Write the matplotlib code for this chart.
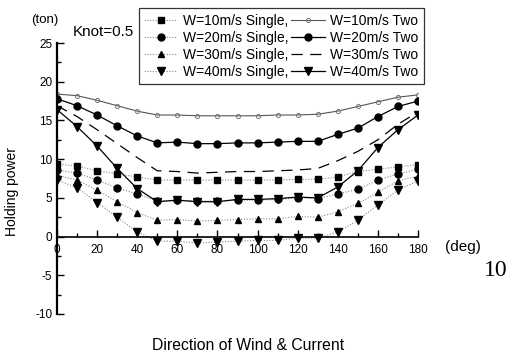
import matplotlib
matplotlib.use("Agg")
import matplotlib.pyplot as plt
from matplotlib.ticker import MultipleLocator

plt.rcParams['font.family'] = ['Liberation Sans', 'DejaVu Sans']
plt.rcParams['axes.unicode_minus'] = False

angles = [0, 10, 20, 30, 40, 50, 60, 70, 80, 90, 100, 110, 120, 130, 140, 150, 160, 170, 180]

w10_single = [9.4, 9.1, 8.5, 8.1, 7.7, 7.3, 7.3, 7.3, 7.3, 7.3, 7.3, 7.3, 7.4, 7.4, 7.7, 8.4, 8.7, 9.0, 9.3]
w20_single = [8.6, 8.2, 7.3, 6.3, 5.5, 4.6, 4.7, 4.6, 4.6, 4.7, 4.7, 4.8, 5.0, 4.9, 5.5, 6.1, 7.3, 8.1, 8.7]
w30_single = [7.9, 7.3, 6.0, 4.5, 3.1, 2.1, 2.2, 2.0, 2.1, 2.2, 2.3, 2.3, 2.6, 2.5, 3.2, 4.3, 5.7, 7.2, 7.8]
w40_single = [7.3, 6.3, 4.4, 2.5, 0.6, -0.6, -0.6, -0.85, -0.7, -0.6, -0.5, -0.5, -0.2, -0.2, 0.6, 2.1, 4.1, 6.0, 7.2]

w10_two = [18.4, 18.2, 17.6, 16.9, 16.2, 15.7, 15.7, 15.6, 15.6, 15.6, 15.6, 15.7, 15.7, 15.8, 16.2, 16.8, 17.4, 18.0, 18.3]
w20_two = [17.8, 16.9, 15.7, 14.3, 13.0, 12.1, 12.2, 12.0, 12.0, 12.1, 12.1, 12.2, 12.3, 12.3, 13.2, 14.0, 15.5, 16.8, 17.5]
w30_two = [16.9, 15.5, 13.8, 12.0, 10.2, 8.5, 8.4, 8.2, 8.3, 8.4, 8.4, 8.5, 8.6, 8.8, 9.8, 11.0, 12.5, 14.5, 16.1]
w40_two = [16.4, 14.2, 11.7, 8.8, 6.2, 4.5, 4.7, 4.5, 4.5, 4.8, 4.8, 4.9, 5.1, 5.0, 6.4, 8.5, 11.5, 13.8, 15.7]

single_labels = ["W=10m/s Single,", "W=20m/s Single,", "W=30m/s Single,", "W=40m/s Single,"]
two_labels = ["W=10m/s Two", "W=20m/s Two", "W=30m/s Two", "W=40m/s Two"]

fig = plt.figure(figsize=(5.14, 3.54), dpi=100)
ax = fig.add_axes([57/514, 1-314/354, (418-57)/514, (314-43)/354])

dot = dict(color='#888888', lw=0.8, ls=(0, (1, 1.5)))
h = []
h += ax.plot(angles, w10_single, marker='s', ms=5, mfc='black', mec='black', label=single_labels[0], **dot)
h += ax.plot(angles, w20_single, marker='o', ms=5, mfc='black', mec='black', label=single_labels[1], **dot)
h += ax.plot(angles, w30_single, marker='^', ms=4.5, mfc='black', mec='black', label=single_labels[2], **dot)
h += ax.plot(angles, w40_single, marker='v', ms=5.5, mfc='black', mec='black', label=single_labels[3], **dot)

h += ax.plot(angles, w10_two, color='#555555', lw=0.8, marker='o', ms=3, mfc='none', mec='#777777', mew=0.7, label=two_labels[0])
h += ax.plot(angles, w20_two, color='black', lw=0.9, marker='o', ms=5, mfc='black', mec='black', label=two_labels[1])
h += ax.plot(angles, w30_two, color='black', lw=0.9, ls=(0, (9, 6)), label=two_labels[2])
h += ax.plot(angles, w40_two, color='black', lw=0.9, marker='v', ms=6, mfc='black', mec='black', label=two_labels[3])

ax.set_xlim(0, 180)
ax.set_ylim(-10, 25)
ax.spines['top'].set_visible(False)
ax.spines['right'].set_visible(False)
ax.spines['left'].set_linewidth(1.6)
ax.spines['bottom'].set_position(('data', 0))
ax.spines['bottom'].set_linewidth(1.2)
ax.xaxis.set_major_locator(MultipleLocator(20))
ax.xaxis.set_minor_locator(MultipleLocator(10))
ax.yaxis.set_major_locator(MultipleLocator(5))
ax.yaxis.set_minor_locator(MultipleLocator(2.5))
ax.tick_params(which='both', direction='in', labelsize=8.5, width=1)
ax.tick_params(which='major', length=5)
ax.tick_params(which='minor', length=3)
ax.tick_params(axis='x', pad=5)

ax.set_ylabel('Holding power', fontsize=10)
ax.yaxis.set_label_coords(-38/361, (314-192)/271)
fig.text(248/514, 1-345/354, 'Direction of Wind & Current', fontsize=11.3, ha='center', va='center')
fig.text(45/514, 1-20/354, '(ton)', fontsize=9.5, ha='center', va='center')
fig.text(73/514, 1-32/354, 'Knot=0.5', fontsize=11, ha='left', va='center')
fig.text(445/514, 1-247/354, '(deg)', fontsize=11, ha='left', va='center')
fig.text(496/514, 1-271/354, '10', fontsize=17, ha='center', va='center', family='Liberation Serif')

leg = fig.legend(handles=h, ncol=2, loc='upper right', bbox_to_anchor=(424/514, 1-8/354),
                 fontsize=10, frameon=True, fancybox=False, edgecolor='black',
                 handlelength=2.4, handletextpad=0.4, columnspacing=0.2,
                 labelspacing=0.22, borderpad=0.4, borderaxespad=0)
leg.get_frame().set_linewidth(0.9)

fig.savefig('out.png', dpi=100)
